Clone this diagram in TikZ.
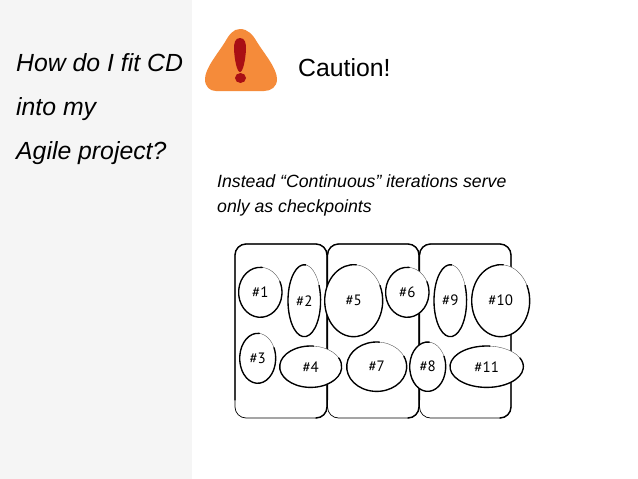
\documentclass[tikz,border=0pt]{standalone}
\usepackage{fontspec}
\setmainfont{Liberation Sans}
\newfontfamily\sketchfont{PT Sans}
\usetikzlibrary{shapes.geometric}
\definecolor{panelgray}{HTML}{F5F5F5}
\definecolor{warnorange}{HTML}{F58B3A}
\definecolor{warnred}{HTML}{A90F14}
\tikzset{
  titletext/.style={anchor=base west,inner sep=0pt,font=\fontsize{24.8}{28}\selectfont\itshape},
  bodytext/.style={anchor=base west,inner sep=0pt,font=\fontsize{17.7}{21}\selectfont\itshape},
  sprintbox/.style={draw=black,line width=0.7pt,rounded corners=11pt},
  sprintheavy/.style={line width=1.4pt,line cap=round},
  story/.style={ellipse,draw=black!70,fill=white,line width=0.35pt,inner sep=0pt,font=\sketchfont\fontsize{15}{17}\selectfont},
  storyheavy/.style={line width=1.35pt,line cap=round},
}
\begin{document}
\begin{tikzpicture}[x=1pt,y=-1pt]
\useasboundingbox (0,0) rectangle (638,479);
\fill[white] (0,0) rectangle (638,479);
\fill[panelgray] (0,0) rectangle (192,479);
\node[titletext] (t1) at (16,71) {How do I fit CD};
\node[titletext] (t2) at (16,115) {into my};
\node[titletext] (t3) at (16,159) {Agile project?};
% warning sign
\fill[warnorange] (240,29) .. controls (248,29) and (253,35) .. (257,42)
  .. controls (263,52) and (277,68) .. (277,79)
  .. controls (277,87) and (271,91) .. (264,91)
  -- (216,91)
  .. controls (210,91) and (205,87) .. (205,79)
  .. controls (205,68) and (219,52) .. (225,42)
  .. controls (229,35) and (233,29) .. (240,29) -- cycle;
\fill[warnred] (240,38) .. controls (235,38) and (234,43) .. (234,49) .. controls (234.5,60) and (237,72) .. (240,72) .. controls (243,72) and (245.5,60) .. (246,49) .. controls (246,43) and (245,38) .. (240,38) -- cycle;
\fill[warnred] (240.5,78) ellipse[x radius=5.5pt,y radius=5pt];
\node[anchor=base west,inner sep=0pt,font=\fontsize{24.8}{28}\selectfont] (caution) at (298,76) {Caution!};
\node[bodytext] (b1) at (217,187) {Instead “Continuous” iterations serve};
\node[bodytext] (b2) at (217,212) {only as checkpoints};
% sprint boxes
\foreach \xa/\xb in {235/327,327.5/419,419.5/511}{
  \draw[sprintbox] (\xa,244) rectangle (\xb,418);
  \draw[sprintheavy] (\xa,400) -- (\xa,255) arc[start angle=180,end angle=90,radius=11pt] -- (\xb-11,244) arc[start angle=90,end angle=0,radius=11pt] -- (\xb,407) arc[start angle=0,end angle=-90,radius=11pt];
}
\foreach \nm/\cx/\cy/\rx/\ry/\lab in {
  s1/260.3/292.3/21.7/25/\#1,
  s2/304.3/300.7/16.3/36/\#2,
  s3/257.7/358.3/18/25/\#3,
  s4/310.7/366.7/31/20.7/\#4,
  s5/353.7/300.7/29/36/\#5,
  s6/407.3/292.3/21.7/25/\#6,
  s7/376.7/366.7/30/24.7/\#7,
  s8/427.7/366.7/18/24.7/\#8,
  s9/450.3/300.7/16.3/36/\#9,
  s10/500.7/300.7/29/36/\#10,
  s11/486.7/366.7/36.7/20.7/\#11}{
  \node[story,minimum width=2*\rx pt,minimum height=2*\ry pt] (\nm) at (\cx,\cy) {\lab};
  \draw[storyheavy] ({\cx+\rx*cos(85)},{\cy-\ry*sin(85)}) arc[start angle=85,end angle=385,x radius=\rx pt,y radius=\ry pt];
}
\end{tikzpicture}
\end{document}
